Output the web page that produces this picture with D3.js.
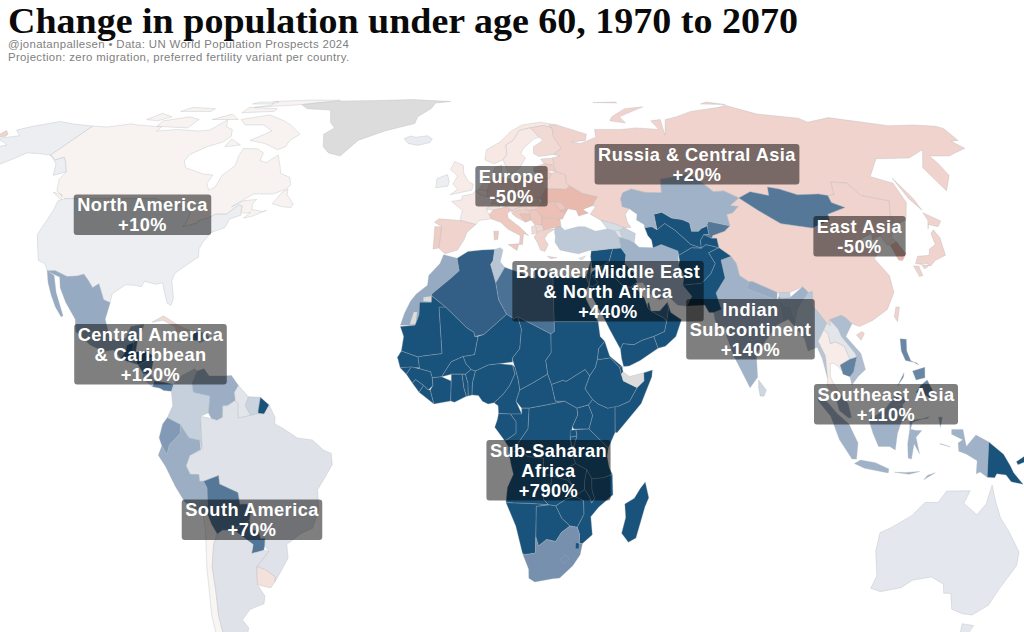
<!DOCTYPE html>
<html><head><meta charset="utf-8">
<script src="https://cdn.jsdelivr.net/npm/d3@7"></script>
<style>html,body{margin:0;background:#fff}svg{display:block}</style></head>
<body><svg id="c" width="1024" height="632"></svg>
<script>
const titleText = "Change in population under age 60, 1970 to 2070";
const subtitleLines = ["@jonatanpallesen • Data: UN World Population Prospects 2024","Projection: zero migration, preferred fertility variant per country."];

const labelLines = [["North America","+10%"],["Central America","& Caribbean","+120%"],["South America","+70%"],["Europe","-50%"],["Russia & Central Asia","+20%"],["East Asia","-50%"],["Broader Middle East","& North Africa","+440%"],["Indian","Subcontinent","+140%"],["Southeast Asia","+110%"],["Sub-Saharan","Africa","+790%"]];
const labelCentreX = [142.5,150.5,252,511.5,697,859.5,608,750.5,886,548.5];
const labelCentreY = [214.5,354,519.5,186,164,236,291,329,404,470];

// change in population under 60, percent, read from the colours; null = no data
const changeStops = [-70,-50,-20,0,10,30,60,100,130,200,300,500];
const changeColours = ["#eab9ad","#f0d3cc","#f7e8e4","#f8f6f4","#eceef2","#dfe3e9","#c6d0dc","#a0b2c7","#839ab6","#557899","#335f87","#19527b"];
const noDataColour = "#dcdcdc";

// projection tables: parallel length, and height of each parallel in pixels
const lenLat = d3.range(0,95,5);
const lenNorthEast = [1,.9986,.99,.98,.965,.955,.94,.915,.89,.86,.82,.79,.75,.72,.69,.66,.62,.57,.53];
const lenOther = [1,.9986,.9954,.99,.9822,.973,.96,.9427,.9216,.8962,.8679,.835,.7986,.7597,.7186,.6732,.6213,.5722,.5322];
const northLat = [0,15,25,37,43.5,60,69.6,77,83,90];
const northPx = [0,68,117,175,204,268,298,318,324,330];
const southLat = [0,5,35,40,55,90];
const southPx = [0,23,158,184,262,400];

const americaNames = ["Canada","USA","Greenland","Iceland","Mexico","Guatemala","Belize","Honduras","El Salvador","Nicaragua","Costa Rica","Panama","Cuba","Haiti","Dominican Rep.","Jamaica","Puerto Rico","Colombia","Venezuela","Guyana","Suriname","French Guiana","Brazil","Ecuador","Peru","Bolivia","Paraguay","Chile","Argentina","Uruguay"];
const americaChanges = [-5,10,null,15,110,400,250,350,150,200,60,190,-40,250,100,30,-30,60,105,25,55,500,30,130,105,200,210,-2,30,-30];
const americaOutlines = [
"-123,49;-95,49;-94.6,48.7;-89.5,48;-84.5,46.5;-82.5,45.3;-82.4,43;-83,42;-79,42.8;-79,43.3;-76.5,44;-74.7,45;-71.5,45;-70,46.5;-69,47.4;-67.8,47;-67.5,45.5;-66,45.2;-64.5,45.5;-66,44;-63.5,44.5;-60,46;-61,45.7;-64.5,46.2;-65,47.8;-64.3,48.8;-68,48.5;-71,46.9;-66,50.2;-60,50.2;-56.5,51.5;-55.7,52.5;-57,54.5;-60.5,55.5;-62,57.5;-64.5,60.3;-67,58.3;-69.5,58.8;-70,61;-73,62.3;-78,62.4;-77.5,60;-76.7,57.5;-79,55;-79,52;-80.5,51.2;-82.3,52.9;-82,55.1;-85,55.3;-92.5,57;-94.5,58.8;-94.3,60.5;-91,63;-87,64.5;-86,66.3;-88,68.5;-91,69.3;-94,71.9;-96,68.3;-100,68;-108,68.5;-115,68;-115,69.3;-125,70;-128,70.4;-135,69.3;-141,69.6;-141,60.3;-137.5,59;-135.5,59.7;-133.5,58.5;-130,55.9;-130,54;-127.5,51;-124,49.5|-64,63;-66,62;-72,64;-78,65;-73,68;-78,70;-85,70;-89,72;-80,73.7;-72,71.5;-68,70;-62,67;-64,65|-105,69;-117,69.5;-118,71.5;-110,73;-105,72|-120,71.5;-125,72;-123,74.3;-117,73|-90,76.5;-75,78;-65,81.5;-62,82.7;-75,83;-90,81.5;-85,78|-80,75;-92,74.5;-92,76.5;-80,76|-85,63;-80,63.5;-85,65.5|-59,47.7;-55.5,46.9;-53,46.7;-52.7,47.7;-55.5,50;-56,51.5;-57.5,50.5|-105,75;-117,75;-115,76.5;-105,76|-87,79;-95,79;-95,81;-87,81|-90,72;-100,72;-95,74|-123.5,48.4;-128.3,50.7;-125,50", // Canada
"-123,49;-95,49;-94.6,48.7;-89.5,48;-84.5,46.5;-82.5,45.3;-82.4,43;-83,42;-79,42.8;-79,43.3;-76.5,44;-74.7,45;-71.5,45;-70,46.5;-69,47.4;-67.8,47;-67.5,45.5;-67,44.8;-70,43.7;-70.5,41.8;-74,40.7;-75.5,38.5;-76,37;-75.5,35.3;-78,33.9;-81,32;-81.4,30.5;-80,26.8;-80.3,25.3;-81.5,25.8;-82.8,28;-83.8,30;-85.5,29.7;-89,30.3;-89.5,29.2;-91.5,29.5;-94,29.6;-97.2,27.7;-97.2,25.9;-99.2,26.5;-101.5,29.8;-103,29;-104.7,30.5;-106.5,31.8;-108.2,31.4;-111,31.3;-114.8,32.5;-117.1,32.5;-118.5,34;-120.6,34.6;-122.5,37.5;-124.3,40.3;-124,46;-124.7,48.4|-141,69.6;-150,70.4;-156.5,71.3;-163,69.5;-166.5,68.3;-162,66.5;-168,65.6;-164,64.5;-161,63.5;-165,62.5;-165.5,60.5;-162,59;-157,58.7;-162,55;-158,56.2;-154,58;-151.5,59.5;-150,61;-146,60.8;-141,60.3|-141,60.3;-137.5,59;-135.5,59.7;-133.5,58.5;-130,55.9;-133,55;-136,58;-139.5,59.7", // USA
"-73,78.2;-68,76;-58,75.5;-54,71;-51,69;-53.5,67;-51,63;-48,61;-43.5,60;-40,65;-32,68;-22,70.5;-22,73;-18,76;-18,80;-12,81.5;-30,83.5;-45,82.5;-60,82;-68,80.5", // Greenland
"-24,65.5;-22,64;-18.5,63.4;-14.5,64.3;-14,65.5;-16,66.5;-20,66;-22,66.4", // Iceland
"-117.1,32.5;-114.8,32.5;-111,31.3;-108.2,31.4;-106.5,31.8;-104.7,30.5;-103,29;-101.5,29.8;-99.2,26.5;-97.2,25.9;-97.8,22.5;-96,19;-94.5,18.2;-91.5,18.6;-90.5,21;-87,21.5;-87.8,18.2;-89,17.9;-91,17.2;-91,16;-92.2,14.5;-94.5,16.2;-97,15.9;-101,17.3;-105.3,20;-106,22.5;-109.5,26;-112,29;-113,31.2;-114.8,31.7|-117.1,32.5;-115.7,30;-114,27.5;-112,25;-110,23;-109.5,23.2;-111,25.5;-112.8,28;-114.7,31.5", // Mexico
"-92.2,14.5;-91,16;-91,17.2;-89.2,17.8;-88.3,15.8;-89.3,14.5;-90.2,13.8", // Guatemala
"-89.2,17.8;-88.2,18.4;-88.3,16;-89.2,15.9", // Belize
"-89.3,14.5;-88.3,15.8;-86,16;-83.2,15;-85,14;-87.3,13", // Honduras
"-90.2,13.8;-89.3,14.4;-87.8,13.8;-87.7,13.2", // El Salvador
"-87.3,13;-85,14;-83.2,15;-83.7,11;-85.7,11.1", // Nicaragua
"-85.7,11.1;-83.7,11;-82.6,9.5;-83,8.2;-85.7,9.9", // Costa Rica
"-83,8.2;-82.6,9.5;-80,9.2;-77.4,8.7;-77.9,7.2;-80,7.4;-81,7.9", // Panama
"-84.9,21.9;-82,23.2;-77,21;-74.2,20.2;-77.7,19.9;-78.5,21;-82,22.3", // Cuba
"-74.4,18.4;-73,19.9;-71.7,19.8;-71.8,18.1", // Haiti
"-71.7,19.8;-70,19.8;-68.4,18.6;-71.3,17.7;-71.8,18.1", // Dominican Rep.
"-78.3,18.3;-76.3,18;-77.5,17.9", // Jamaica
"-67.2,18.5;-65.7,18.2;-66.5,18", // Puerto Rico
"-77.4,8.7;-75.5,10.6;-72,12.2;-71.3,11.7;-72.5,9;-72,7;-67.5,6.2;-67.8,2.5;-69.9,1.7;-69.5,-4.2;-70.2,-2.7;-73,-2.3;-75.3,-.1;-78.8,1.4;-77.4,4;-77.9,7.2", // Colombia
"-71.3,11.7;-69.5,12.2;-68,10.6;-64,10.6;-62,10.7;-60,8.5;-61,7;-60.7,5.2;-62.8,4;-64,4;-64,1.5;-65.5,.8;-67,1.2;-67.8,2.5;-67.5,6.2;-72,7;-72.5,9", // Venezuela
"-60,8.5;-57.2,6;-58,4;-56.5,1.9;-59.8,1.3;-60,3;-59.9,4.4;-60.7,5.2;-61,7", // Guyana
"-57.2,6;-54,5.9;-54.5,3;-54.5,2.3;-56.5,1.9;-58,4", // Suriname
"-54,5.9;-51.6,4.2;-52.9,2.2;-54.5,2.3;-54.5,3", // French Guiana
"-51.6,4.2;-50,1.5;-50,0;-48,-.7;-44,-2.5;-40,-2.9;-37,-4.8;-35,-5.5;-34.8,-8;-37,-11;-39,-13.5;-39,-18;-41,-22;-44.5,-23.2;-48.5,-25.5;-48.6,-28.5;-52,-32.3;-53.4,-33.7;-53.1,-32.5;-55.5,-30.9;-57.6,-30.2;-53.7,-26.9;-54.6,-25.6;-54.3,-24;-55.5,-24;-55.8,-22.3;-58,-22;-58,-19.9;-57.5,-18;-58.3,-16.3;-60.2,-16.3;-60.5,-13.7;-65.3,-11.7;-65.4,-9.8;-69.5,-11;-70.6,-11;-70.7,-9.5;-73,-9.4;-74,-7.5;-72.9,-5.2;-70,-4.3;-69.5,-4.2;-69.9,1.7;-67,1.2;-65.5,.8;-64,1.5;-64,4;-62.8,4;-60.7,5.2;-59.9,4.4;-60,3;-59.8,1.3;-56.5,1.9;-54.5,2.3;-52.9,2.2", // Brazil
"-78.8,1.4;-75.3,-.1;-75.3,-1.5;-78.3,-3.4;-79,-5;-80.3,-3.5;-81,-2.2;-80,0", // Ecuador
"-75.3,-.1;-73,-2.3;-70.2,-2.7;-69.9,-4.2;-72.9,-5.2;-74,-7.5;-73,-9.4;-70.7,-9.5;-70.6,-11;-69.5,-11;-68.7,-12.5;-69,-16.5;-69.5,-17.5;-70.4,-18.3;-75,-15.5;-77.2,-12;-79.5,-7.5;-81.3,-5;-80.3,-3.5;-79,-5;-78.3,-3.4;-75.3,-1.5", // Peru
"-69.5,-11;-65.4,-9.8;-65.3,-11.7;-60.5,-13.7;-60.2,-16.3;-58.3,-16.3;-57.5,-18;-58,-19.9;-62.6,-22;-64,-22;-65.7,-22;-67.2,-22.8;-68.5,-20.5;-69.5,-17.5;-69,-16.5;-68.7,-12.5", // Bolivia
"-58,-19.9;-58,-22;-55.8,-22.3;-55.5,-24;-54.3,-24;-54.6,-25.6;-55,-26.6;-58.5,-27.3;-57.7,-25.3;-62.6,-22", // Paraguay
"-70.4,-18.3;-69.5,-17.5;-68.5,-20.5;-67.2,-22.8;-68.5,-25;-70,-30;-70.5,-35;-71.5,-40;-72,-46;-73,-50;-72,-52;-68.5,-52.5;-68.6,-55;-72,-54;-75,-50;-74,-45;-73.5,-40;-71.5,-30;-70.3,-22", // Chile
"-65.7,-22;-64,-22;-62.6,-22;-57.7,-25.3;-58.5,-27.3;-55,-26.6;-53.7,-26.9;-57.6,-30.2;-58.2,-33;-58.4,-34.2;-57,-36.5;-57.7,-38;-62,-39;-65,-41;-63.8,-42.5;-65.5,-45;-66,-47;-69,-51;-68.5,-52.5;-72,-52;-73,-50;-72,-46;-71.5,-40;-70.5,-35;-70,-30;-68.5,-25;-67.2,-22.8", // Argentina
"-57.6,-30.2;-55.5,-30.9;-53.1,-32.5;-53.4,-33.7;-54.9,-35;-58.4,-34.2;-58.2,-33" // Uruguay
];

const africaNames = ["Morocco","W. Sahara","Algeria","Tunisia","Libya","Egypt","Sudan","South Sudan","Chad","Niger","Mali","Mauritania","Senegal","Guinea-Bissau","Guinea","Sierra Leone","Liberia","Ivory Coast","Burkina Faso","Ghana","Togo","Benin","Nigeria","Cameroon","CAR","Gabon","Congo","DR Congo","Uganda","Kenya","Rwanda","Burundi","Tanzania","Ethiopia","Eritrea","Djibouti","Somaliland","Somalia","Angola","Zambia","Malawi","Mozambique","Zimbabwe","Botswana","Namibia","South Africa","Lesotho","Eswatini","Madagascar"];
const africaChanges = [110,null,300,75,230,500,500,500,500,500,500,500,500,500,500,500,500,500,500,500,500,500,500,500,500,500,500,500,500,500,500,500,500,500,500,500,null,500,500,500,500,500,500,500,500,150,150,500,500];
const africaOutlines = [
"-5.9,35.8;-2,35.1;-1.3,32.5;-3.5,31;-8.7,27.7;-8.7,26;-12,26;-12,23.4;-13,21.3;-17,21.3;-16,23.7;-14.5,26.2;-13,27.7;-10,29.5;-9.8,31.5;-6.8,34", // Morocco
"-11,26.2;-8.7,26;-8.7,27.3;-11,27|-13.5,24;-12.5,24;-12.8,21.5;-14.5,21.4", // W. Sahara patches
"-2,35.1;1,36.5;5,36.8;8.6,36.9;8.2,34.6;7.5,33.8;9,30;9.8,26.5;12,23.5;5.8,19.4;3.3,19;3.1,19.8;1.2,20.7;-4.8,25;-8.7,27.3;-8.7,27.7;-3.5,31;-1.3,32.5", // Algeria
"8.6,36.9;10.2,37.3;11,36.8;10.2,34.3;11.5,33.2;10.2,31.5;9,30;7.5,33.8;8.2,34.6", // Tunisia
"11.5,33.2;15,32.3;20,30.9;20,32.7;23,32.6;25,31.6;25,20;24,19.5;15,23;14,22.6;12,23.5;9.8,26.5;9,30;10.2,31.5", // Libya
"25,31.6;29,31;32.3,31.2;34.2,31.3;34.9,29.5;33.5,28;34,26.5;35.5,24;37,22;25,22", // Egypt
"25,22;37,22;37.4,19;38.6,18;36.9,16.5;36.5,14.3;35.9,12.5;34.3,10.6;33.1,12;28,9.4;27,9.6;24,8.7;23,11;22.5,14;24,15.7;24,19.5;25,20", // Sudan
"33.1,12;34.3,10.6;33,7.8;35,5.4;33.9,4.2;30.8,3.5;27.5,5;25,5;24,8.7;27,9.6;28,9.4", // South Sudan
"15,23;24,19.5;24,15.7;22.5,14;23,11;18.9,9;15.5,7.5;15,10;14.2,12.5;13.5,14.5;15.5,16.5;16,20.5", // Chad
"12,23.5;14,22.6;15,23;16,20.5;15.5,16.5;13.5,14.5;13.6,13.7;10,13.3;7,13;3.6,11.7;2.4,12;1,13.3;.2,14.9;3.3,15.3;4.2,19;5.8,19.4", // Niger
"-4.8,25;1.2,20.7;3.1,19.8;3.3,19;4.2,19;3.3,15.3;.2,14.9;-3,13.7;-5.5,10.4;-8,10.2;-8.5,11.5;-11.5,12.2;-12,14.8;-10.8,15;-5.5,15.5;-6.6,25", // Mali
"-8.7,27.3;-4.8,25;-6.6,25;-5.5,15.5;-10.8,15;-12,14.8;-16.5,16;-16,19;-17,21;-13,21.3;-12,23.4;-12,26;-8.7,26", // Mauritania
"-16.5,16;-12,14.8;-11.5,12.4;-16.7,12.4;-17.5,14.7", // Senegal
"-16.7,12.4;-13.7,12.6;-15,11", // Guinea-Bissau
"-13.7,12.6;-11.5,12.2;-8.5,11.5;-8,10.2;-7.8,8.5;-9,7.5;-10.3,8.5;-12.5,9.8;-13.3,9;-15,11", // Guinea
"-13.3,9;-12.5,9.8;-10.3,8.5;-11.5,7", // Sierra Leone
"-11.5,7;-10.3,8.5;-9,7.5;-8.5,7.5;-7.5,4.4", // Liberia
"-8,10.2;-5.5,10.4;-2.9,9.5;-3,5.1;-7.5,4.4;-8.5,7.5;-7.8,8.5", // Ivory Coast
"-5.5,10.4;-3,13.7;.2,14.9;1,13.3;2.4,12;.9,11;-2.9,11", // Burkina Faso
"-2.9,11;0,11;.5,8;1.2,6.1;-2,4.8;-3,5.1;-2.9,9.5", // Ghana
"0,11;.9,11;1.6,9;1.7,6.2;1.2,6.1;.5,8", // Togo
".9,11;2.4,12;3.6,11.7;2.8,9;2.7,6.4;1.7,6.2;1.6,9", // Benin
"2.7,6.4;2.8,9;3.6,11.7;7,13;10,13.3;13.6,13;14.2,11;12.8,8.5;11,6.5;8.6,4.7;7,4.4;5.5,5;4.4,6.3", // Nigeria
"8.6,4.7;11,6.5;12.8,8.5;14.2,11;13.6,13;14.2,12.5;15,10;15.5,7.5;14.5,5;16,2.2;13,2.2;9.8,2.3;9.7,4", // Cameroon
"15.5,7.5;18.9,9;23,11;24,8.7;25,5;27.5,5;22,4.1;18,3.5;16,3.5;14.5,5", // CAR
"9.8,2.3;13,2.2;14.5,.5;14.5,-2;11.5,-3.7;8.8,-.7;9.5,1", // Gabon
"13,2.2;16,2.2;16,3.5;18,3.5;17.7,-1;16,-3;14.5,-4.8;12.5,-5;11.5,-3.7;14.5,-2;14.5,.5", // Congo
"18,3.5;22,4.1;27.5,5;30.8,3.5;31,2;29.6,-.5;29,-2.7;29.5,-6;30.5,-8.3;28.9,-9;28.6,-11.5;29.8,-13.4;28.3,-12;27,-11.8;24,-11;22,-11;21.8,-7.3;17.5,-7;16.3,-5.9;12.5,-5.9;12.5,-5;14.5,-4.8;16,-3;17.7,-1", // DR Congo
"31,2;30.8,3.5;33.9,4.2;35,1.9;34,-1;29.9,-1;29.6,-.5", // Uganda
"33.9,4.2;35,5.4;36.5,4.4;39,3.5;41,3.9;41,-1.6;39.2,-4.7;34,-1;35,1.9", // Kenya
"29,-1.3;30.5,-1.1;30.8,-2.4;29,-2.7", // Rwanda
"29,-2.7;30.8,-2.4;30,-4.5;29.4,-4.5", // Burundi
"34,-1;39.2,-4.7;38.9,-6.5;39.5,-9;40.4,-10.5;38,-11.3;34.9,-11.6;33.5,-9.6;30.5,-8.3;29.5,-6;30,-4.5;30.8,-2.4;30.5,-1.1", // Tanzania
"36.5,14.3;37.5,14.3;40,14.6;42.4,12.5;42.8,11;43.3,9.5;47,8;44.9,5;41.9,3.9;39,3.5;36.5,4.4;35,5.4;33,7.8;34.3,10.6;35.9,12.5", // Ethiopia
"36.5,14.3;36.9,16.5;38.6,18;39.8,15;43.1,12.7;42.4,12.5;40,14.6;37.5,14.3", // Eritrea
"42.4,12.5;43.1,12.7;43.3,11.5;42.8,11", // Djibouti
"42.8,11;43.3,11.5;45,10.5;48.9,11.3;48.9,9.5;47,8;43.3,9.5", // Somaliland
"48.9,11.3;51.2,11.9;51,10.4;48,4.5;41.5,-1.7;41,-1.6;41,3.9;41.9,3.9;44.9,5;47,8;48.9,9.5", // Somalia
"12.5,-5.9;16.3,-5.9;17.5,-7;21.8,-7.3;22,-11;24,-11;24,-13;22,-13;22,-16.5;23.4,-17.6;18.5,-17.4;14,-17.4;11.8,-17.3;12.2,-14;13.8,-11;13.2,-9", // Angola
"24,-11;27,-11.8;28.3,-12;29.8,-13.4;28.6,-11.5;28.9,-9;30.5,-8.3;33.5,-9.6;33,-12;33,-14;30.4,-15.6;28,-16.3;25.3,-17.8;23.4,-17.6;22,-16.5;22,-13;24,-13", // Zambia
"33.5,-9.6;34.9,-11.6;35,-14;35.8,-16;35,-17;34.3,-15.5;33,-14;33,-12", // Malawi
"34.9,-11.6;38,-11.3;40.4,-10.5;40.7,-15;37,-17.8;34.9,-20;35.5,-24;32.9,-26;32,-26;32,-24;31.3,-22.4;33,-19.5;32.8,-16.5;30.4,-15.6;33,-14;34.3,-15.5;35,-17;35.8,-16;35,-14", // Mozambique
"25.3,-17.8;28,-16.3;30.4,-15.6;32.8,-16.5;33,-19.5;31.3,-22.4;29.3,-22.2;27,-20.5", // Zimbabwe
"20,-18;23.4,-17.6;25.3,-17.8;27,-20.5;29.3,-22.2;27,-23.7;25.5,-25.7;23,-25.3;20.8,-26.8;20,-24.8;20,-22", // Botswana
"11.8,-17.3;14,-17.4;18.5,-17.4;23.4,-17.6;20,-18;20,-22;20,-28.4;17,-28.8;16.4,-28.5;14.5,-22.5", // Namibia
"16.4,-28.5;17,-28.8;20,-28.4;20,-24.8;20.8,-26.8;23,-25.3;25.5,-25.7;27,-23.7;29.3,-22.2;31.3,-22.4;32,-24;32,-26;32.9,-26;32.4,-28.5;30.5,-31;27,-33.8;25,-34;20,-34.8;18.3,-34;18.2,-32", // South Africa
"27,-29.6;28.5,-28.6;29.4,-29.5;28,-30.6", // Lesotho
"31,-25.8;32,-26;32,-27.2;31,-27.2", // Eswatini
"49.3,-12;50.4,-15.5;49.5,-17.5;47.5,-24.5;45.5,-25.5;43.5,-23.5;44.4,-20;44,-17;46.5,-15.7;48,-13.5" // Madagascar
];

const westAsiaNames = ["Saudi Arabia","Yemen","Oman","UAE","Qatar","Kuwait","Iraq","Syria","Jordan","Israel & Palestine","Turkey","Iran","Azerbaijan","Armenia","Georgia","Afghanistan","Pakistan","Uzbekistan","Turkmenistan","Tajikistan","Kyrgyzstan","Kazakhstan"];
const westAsiaChanges = [500,500,500,300,300,300,500,500,500,300,70,100,60,30,40,500,500,500,500,500,200,100];
const westAsiaOutlines = [
"34.9,29.5;36,29.2;37.5,30;36,31.5;39,32;42,31.2;44.7,29.2;46.5,29.1;48.4,28.5;50.1,26.7;50.8,24.8;51.6,24.2;55.2,22.7;55.7,22;55,20;52,19;48.8,18.2;46.5,17.3;43.5,17.5;42.8,16.4;40,20.5;38.5,23;37,25;35,28", // Saudi Arabia
"42.8,16.4;43.5,17.5;46.5,17.3;48.8,18.2;52,19;53,16.6;48,14;45,12.8;43.5,12.7;43,14.5", // Yemen
"52,19;55,20;55.7,22;56.4,24.5;56.3,26;57,23.9;59.8,22.4;58,19;55,17;53,16.6", // Oman
"51.6,24.2;54,24.2;56.3,26;56.4,24.5;55.7,22;55.2,22.7", // UAE
"50.8,24.8;51.6,24.2;51.2,26;50.8,25.6", // Qatar
"46.5,29.1;48,30;48.4,28.5", // Kuwait
"38.8,33.4;41,34.4;42.4,37.1;44.8,37.2;46,35.8;45.5,34;47.8,32;48.5,30;48,30;46.5,29.1;44.7,29.2;42,31.2;39,32", // Iraq
"35.9,35.5;36.2,36.6;42.4,37.1;41,34.4;38.8,33.4;36,33", // Syria
"35,29.5;36,29.2;37.5,30;36,31.5;39,32;38.8,33.4;36,32.3;35.5,31.5", // Jordan
"34.3,31.3;34.9,29.5;35.5,31.5;35.9,34.6;35.1,33.1", // Israel & Palestine
"26.2,40;26,38.5;27.3,36.8;30.5,36.3;32.5,36;36,36.8;36.2,36.6;42.4,37.1;44.8,37.2;44.6,39.7;43.6,41.1;41.5,41.5;38,41;35,42;33,42;29,41.2;28,42;26.3,41.8;26,40.7", // Turkey
"44.8,37.2;46,35.8;45.5,34;47.8,32;48.5,30;50,30;51.5,27.8;54,26.5;57,27;59,25.4;61.6,25.2;63.2,27.2;61,29.5;61.7,31.4;60.5,33.6;61,36.6;56.5,38;54,37.3;50,37.4;48.8,38.4;47.5,39;44.6,39.7", // Iran
"45,41.2;46.5,41.8;49.5,40.5;48.8,38.4;47.5,39;45.5,39.5", // Azerbaijan
"43.6,41.1;45,41.2;45.5,39.5;44.6,39.7", // Armenia
"41.5,41.5;43.6,41.1;45,41.2;46.5,41.8;44,42.6;40,43.4", // Georgia
"60.5,33.6;61.7,31.4;61,29.5;66.3,29.9;69.3,31.9;71,34;71.5,36.2;74.9,37.3;71.3,38;67.8,37.2;65,37.3;61,35.7;61,34.5", // Afghanistan
"61,29.5;63.2,27.2;61.6,25.2;66.5,25.4;67.5,23.9;68.8,23.9;71,24.5;70,27.9;74.5,31;74.6,34.7;77.8,35.5;74.9,37.3;71.5,36.2;71,34;69.3,31.9;66.3,29.9", // Pakistan
"56,45;58.5,45.5;61,44;64,43.6;66,42.9;66,41;68,41;69,41.6;71,42.2;73,40.6;71,40.2;69.3,40.2;68,38.9;67.8,37.2;65,38;61.2,41.2;58.6,42.7;56,41.3", // Uzbekistan
"52.5,41.8;54.7,42;56,41.3;58.6,42.7;61.2,41.2;65,38;67.8,37.2;65,37.3;61,35.7;61,36.6;56.5,38;54,37.3;53.9,39;53,40", // Turkmenistan
"67.8,37.2;71.3,38;74.9,37.3;75,39.4;73.5,39.4;70,40.2;71,40.2;69.3,40.2;68,38.9", // Tajikistan
"69.3,40.2;73.5,39.4;74,40;78,41;80.2,42.2;74,43.2;71,42.5;71,42.2;73,40.6;71,40.2", // Kyrgyzstan
"47,49;47,47;49,46.4;51,45;50.5,43.5;52.5,42.5;52.5,41.8;54.7,42;56,41.3;56,45;58.5,45.5;61,44;64,43.6;66,42.9;66,41;68,41;69,41.6;71,42.2;71,42.5;74,43.2;80.2,42.2;80.5,45;82.5,45.3;85.5,47;83,47.2;87.3,49.2;83.5,51;80,50.8;77,53.5;71,55;70,55.3;65,54.5;61,54;60,50.5;55,50.6;51,51.5;48,50.5" // Kazakhstan
];

const eastAsiaNames = ["Russia","China","Mongolia","North Korea","South Korea","Japan","Taiwan","India","Nepal","Bhutan","Bangladesh","Sri Lanka","Myanmar","Thailand","Laos","Vietnam","Cambodia","Malaysia","Indonesia","Philippines","Papua New Guinea","Australia"];
const eastAsiaChanges = [-50,-50,200,-25,-70,-50,-50,100,110,60,110,50,75,-15,25,85,180,100,100,170,500,22];
const eastAsiaOutlines = [
"28,70;31,70;41,67;40,65;35,64.5;38,64;44,66;44.5,68.5;54,68.5;60,69;68,68.5;67,71.5;73,72;72,66.7;75,72;80,73;87,75;100,76.5;104,77.7;113,74;128,72.5;130,71;140,72.7;160,69.7;170,70;178,69.5;180,68.8;180,65;177,64.7;179,62.5;170,60;163,60;163,58;162,55;156.7,51;156,57;163,62;155,59.5;143,59.3;135,54.7;141,53;140,48;135,43.5;131,42.5;130.7,43;131.3,45;135,48.4;127.5,49.8;125.6,53;120.5,53.3;119,50;116.7,49.8;114,50.2;107,50;102,51.5;98.5,52;97.5,49.8;92,50.8;87.3,49.2;83.5,51;80,50.8;77,53.5;71,55;70,55.3;65,54.5;61,54;60,50.5;55,50.6;51,51.5;48,50.5;47,49;47,47;49,46.4;47.5,45;47.7,43;48.5,41.8;46.5,41.8;44,42.6;40,43.4;37,45;39,47;38,47.2;40,49.5;35.5,50.4;32,52.3;31,53;31,55.2;28,56;27.5,59.5;30,60;28,60.5;31,62.5;29,66;29,69|-170,66;-166.5,66.3;-167,67;-170,68.2|142,54.3;143.5,49;142.5,46;142,49|51.5,71.5;57,70.7;56,73;68,76.7;60,76;53,73|95,79;105,78.5;100,81|50,80.5;60,80;60,81", // Russia
"80.2,42.2;80.5,45;82.5,45.3;85.5,47;83,47.2;87.3,49.2;91,46;96,42.7;105,41.7;111.5,43.5;112,45;119,46.7;116,48;116.7,49.8;119,50;120.5,53.3;125.6,53;127.5,49.8;135,48.4;131.3,45;130.7,43;128,41.7;124.3,40;121.5,39;122,40.5;118,39.2;119,37.3;122.5,37;119.5,35;121.8,31.5;121.5,28;118.5,24.5;114,22.3;110,21;108,21.6;106.5,22.8;105.3,23.3;102,22.4;102,21.2;101,21.7;99,24;97.8,25.2;98.5,28.2;97.3,28;96,29.2;92,28;89,28;88.5,28;82,30.3;81,30.2;78.8,31.5;78.8,34;77.8,35.5;74.9,37.3;75,39.4;73.5,39.4;74,40;78,41|108.7,19.3;110.5,20;111,19.6;109.7,18.2", // China
"87.3,49.2;92,50.8;97.5,49.8;98.5,52;102,51.5;107,50;114,50.2;116.7,49.8;116,48;119,46.7;112,45;111.5,43.5;105,41.7;96,42.7;91,46", // Mongolia
"124.3,40;128,41.7;130.7,43;130.6,42.4;127.5,39.7;128.3,38.6;126,37.8;125,38", // North Korea
"126,37.8;128.3,38.6;129.4,36;127.5,34.6;126.4,34.7", // South Korea
"130.9,34;135,33.5;137,34.6;140.8,35.7;141.9,39.5;141.4,41.3;140,40.5;139.4,38;137,37;136,35.7;132.5,35.5|130,33.5;131.5,33.5;131.4,31.5;130.3,31.3|132.5,34;134.5,34;134,33.3;132.7,32.9|140,41.5;141,42.5;143.5,42;145.5,43.3;142,45.4;141.7,43.5", // Japan
"121,25;122,25;120.8,22;120.1,23", // Taiwan
"68.8,23.9;71,24.5;70,27.9;74.5,31;74.6,34.7;77.8,35.5;78.8,34;78.8,31.5;81,30.2;80,28.8;88,26.4;88.8,27.2;89.5,26.8;92,27;96,29.2;97.3,28;95,26;93.5,24.5;92.5,22;91.7,24.5;92,25.1;90,25.2;88.5,26.5;89,22;87,21.3;85,19.5;80.2,15.5;80,13;79.8,10.3;77.5,8;76,11;74,15;72.8,19;72.7,21;70,20.8;69,22.3", // India
"80,28.8;81,30.2;82,30.3;88.5,28;88,26.4", // Nepal
"88.8,27.2;89,28;92,28;92,27;89.5,26.8", // Bhutan
"88.5,26.5;90,25.2;92,25.1;91.7,24.5;92.5,22;92,21;90.5,22.5;89,22", // Bangladesh
"80,9.7;81.8,7.5;81,6.1;80,6.2;79.8,8", // Sri Lanka
"92.5,22;93.5,24.5;95,26;97.3,28;98.5,28.2;97.8,25.2;99,24;101,21.7;100,20.4;97.8,18;99,15;98.7,10;98,14.5;97.2,16.8;94.5,16;94.2,18.5;92.5,20.5", // Myanmar
"100,20.4;101,19.5;101,17.5;102.5,17.9;104.7,17;105.5,14.3;102.6,13;102.9,11.7;102,12.7;100.8,13.4;100,13.3;99.5,10.5;100.3,8.5;102,6.2;101,5.7;100.3,6.5;98.3,8.5;98.7,10;99,15;97.8,18", // Thailand
"101,21.7;102,21.2;102,22.4;104,20.5;104.5,19;107.3,15.5;107.5,14.8;105.5,14.3;104.7,17;102.5,17.9;101,17.5;101,19.5;100,20.4", // Laos
"102,22.4;105.3,23.3;106.5,22.8;108,21.6;105.7,19;108.8,15.5;109.3,12;107,10.5;105,8.6;104.8,10.4;106,11.5;107.5,14.8;107.3,15.5;104.5,19;104,20.5", // Vietnam
"102.6,13;105.5,14.3;107.5,14.8;106,11.5;104.8,10.4;103,11;102.9,11.7", // Cambodia
"100.3,6.5;101,5.7;102,6.2;103.4,4.5;104.2,1.4;103.4,1.4;101,3;100.4,5|109.6,2;111,1.6;114,1.5;115.5,3.2;116,4.3;118,4.3;119.2,5.3;117,7;115.5,5.5;113,3;110.2,1.6", // Malaysia
"95.3,5.6;97.5,5.2;100.5,2.2;103.5,0;106,-3;105.7,-5.8;104.5,-5.8;101,-2.5;98.7,1.7;95.5,5|105.2,-6.8;106.8,-6;110.8,-6.5;114.5,-7.8;114.4,-8.7;108,-7.8|109.6,2;111,1.6;114,1.5;115.5,3.2;116,4.3;118,4.3;117.8,2;119,1;117.5,.5;116.5,-1.5;116,-4;114.5,-3.5;111.5,-3.5;110,-1.5;109,.5|119.8,.8;124.5,1.2;125,1.6;120.5,.4;120,-.8;121.5,-1;123,-1;121.5,-2;122.5,-4.5;121,-3;120.4,-5.5;119.5,-5.3;119.3,-3;119.8,-.8|131,-.8;134,-.8;135,-3.3;137.5,-1.6;141,-2.6;141,-9.1;139,-8;138,-8.4;138,-5.5;135,-4.4;133,-4;132.8,-2.8;134,-2.3;131,-1.5|124,-10;127,-8.4;125,-9|116,-8.5;119,-8.5;122.8,-8.2;120,-8.9|128,-3;130.8,-3.4;128,-2.9|127.5,1.5;128.5,1.5;128,-.5", // Indonesia
"120.5,18.5;122.2,18.4;121.5,16;122,14;124,13;123.5,13.5;120.6,14;120,16|122,7;123.5,8.5;125.5,9.7;126.5,7.5;125.5,5.7;124,6.5|122,11.7;125.5,12.5;125,10.2;122.5,9.7|117.2,8.3;119.6,11.3;119.2,10.3", // Philippines
"141,-2.6;145,-4.3;147,-6.5;148,-8;150.8,-10.5;147.5,-10;146,-8.5;143.5,-8.3;143,-9.2;141,-9.1|148.5,-5.5;152,-4;152,-5;149,-6.2", // PNG
"113.7,-26;114,-22;117,-20.7;122,-18;125,-15;128.5,-15;130.5,-12.4;136.8,-12.2;135.5,-15;139.5,-17.5;141.5,-15;142.5,-10.8;144,-14.5;146,-18;149,-21;153,-25.5;153.5,-28.5;151,-34;150,-37;146.5,-39;143.5,-38.8;140,-38;138,-35;136,-35;135,-33;131,-31.5;126,-32.3;123.5,-34;118,-35;115,-34.3;115.7,-31.5|144.7,-40.7;148.3,-41;147.7,-43.5;146,-43.6" // Australia
];

const europeNames = ["Norway","Sweden","Finland","Denmark","Estonia","Latvia","Lithuania","Belarus","Poland","Germany","Netherlands","Belgium","France","Spain","Portugal","UK","Ireland","Switzerland","Italy","Austria","Czechia","Slovakia","Hungary","Slovenia","Croatia","Bosnia","Serbia","Albania","N. Macedonia","Greece","Bulgaria","Romania","Moldova","Ukraine","Cyprus"];
const europeChanges = [-20,-18,-40,-25,-45,-55,-55,-50,-55,-50,-30,-25,-18,-50,-55,-15,10,-30,-58,-45,-45,-50,-55,-50,-55,-65,-60,-40,-45,-50,-65,-65,-60,-70,30];
const europeOutlines = [
"5,59;5.3,62;10,64.5;14,68;18,70;25,71;31,70;29,69;26,69.8;21,69;17,68.2;14.5,65;12,63.5;12.3,60.5;11,59;8,58", // Norway
"11,59;12.3,60.5;12,63.5;14.5,65;17,68.2;21,69;24,66;22,65.5;18,62.5;17,60.8;18.5,59.5;16.5,57;14.2,55.5;12.8,55.5", // Sweden
"21,69;26,69.8;29,69;29,66;31,62.5;28,60.5;23,59.9;21.3,60.8;21.5,63;25,65;24,66", // Finland
"8.2,57;10.6,57.7;10.5,55;8.7,54.9;8,56", // Denmark
"23.5,59.2;28,59.5;27.5,57.6;24.5,58", // Estonia
"21,57;24.5,58;27.5,57.6;28,56;25,56.3;21,56", // Latvia
"21,56;25,56.3;26.7,55.5;25.7,54.2;23.6,53.9", // Lithuania
"23.6,53.9;25.7,54.2;26.7,55.5;28,56;31,55.2;31,53;32,52.3;30.5,51.4;24,51.6;23.3,52.5", // Belarus
"14.2,53.9;18.5,54.8;20,54.4;23,54.3;23.6,53.9;23.3,52.5;24,51;22.5,49.1;18.8,49.5;15,51;14.7,52.5", // Poland
"7,53.5;8.7,54.9;10.5,54.5;14.2,53.9;14.7,52.5;15,51;12,50.2;13.8,48.6;13,47.5;7.5,47.6;8,49;6.2,49.5;6,51", // Germany
"3.5,51.4;4.7,53;7,53.5;6,51", // Netherlands
"2.5,51;3.5,51.4;6,51;6.2,49.5;4,50", // Belgium
"2.5,51;4,50;6.2,49.5;8,49;7.5,47.6;6,46.3;7.5,43.8;4,43.4;3,42.5;-1.7,43.4;-1.2,46;-4.7,48.3;-1.6,48.7;-1.5,49.7;1.5,50.2", // France
"-1.7,43.4;3,42.5;.5,40.7;-.3,39;-2,36.8;-5.5,36;-7.4,37.2;-7,42;-9.2,43;-8,43.8", // Spain
"-9,42;-7,42;-7.4,37.2;-9,37", // Portugal
"-5.3,50;1.3,51.2;1.7,52.7;0,53.5;-1.6,55.5;-2,57.6;-5,58.6;-6,56.5;-3.5,54.8;-4.8,52.8;-3.1,51.4", // UK
"-10,51.8;-6.3,52.2;-6,53.5;-6.8,55.2;-10,54.2", // Ireland
"6,46.3;7.5,47.6;10,47.3;10,46.3;8,46", // Switzerland
"7.5,43.8;6.9,45;8,46;12,47;13.7,46;12.3,45.3;12.5,44;16,41.9;18.4,40;17,40.5;16.6,38;15.7,38;16,40;12.5,41.4;10.3,43|12.5,38;15.6,38.2;15,36.7|8.3,41;9.7,41;9.5,39.2;8.5,39", // Italy
"9.5,47.4;13,47.5;13.8,48.6;17,48.7;16.1,46.8;13.7,46;12,47", // Austria
"12,50.2;15,51;18.8,49.6;17,48.7;13.8,48.6", // Czechia
"17,48.7;18.8,49.5;22.5,49.1;22,48.4;18.8,47.8", // Slovakia
"16.1,46.8;17,48;18.8,47.8;22,48.4;22.8,47.9;21,46.2;18.8,45.9", // Hungary
"13.7,46;16.1,46.8;16.5,46;13.6,45.5", // Slovenia
"13.6,45.2;16.5,46.4;18.8,45.9;19,45;16,45;17.7,43;15,44.2", // Croatia
"16,45;19,45;19.3,43.5;17.7,43", // Bosnia
"19,46;21,46.2;22.6,44.2;22.4,42.4;20.5,42.3;19.3,43.5;19,45", // Serbia
"19.4,42;20.5,42.3;21,40.6;19.4,40.3", // Albania
"20.7,42;22.4,42.4;23,41.3;21,40.8", // N. Macedonia
"20,39.7;21,40.7;23,41.3;26.3,41.5;24,40.5;23,39.3;24,38;23,36.5;21.7,36.8;21,38.3|23.6,35.5;26.3,35.2;24.5,35", // Greece
"22.6,44.2;27.9,43.7;28,42;26.3,41.8;23,41.3;22.4,42.4", // Bulgaria
"22.8,47.9;26.6,48.3;28.2,46;29.6,45.2;28.6,43.7;22.6,44.2;21,46.2", // Romania
"26.6,48.3;29,47.9;30,46.4;28.2,45.6", // Moldova
"24,51.6;30.5,51.4;32,52.3;35.5,50.4;40,49.5;38,47.2;35,46.2;36.5,45.3;33.5,44.5;33,46;30.6,46.4;29.6,45.2;28.2,46;30,46.4;29,47.9;26.6,48.3;22.8,47.9;22.5,49.1;24,51", // Ukraine
"32.4,35;34.5,35.6;33.5,34.8" // Cyprus
];

// pseudo-cylindrical projection fitted to the picture
const pxPerDegree = 3.74, lon0 = 11, centreX = 503, equatorY = 424, southDrop = .09;
const lenEast = d3.scaleLinear().domain(lenLat).range(lenNorthEast);
const lenRest = d3.scaleLinear().domain(lenLat).range(lenOther);
const heightN = d3.scaleLinear().domain(northLat).range(northPx);
const heightS = d3.scaleLinear().domain(southLat).range(southPx);
const toScreen = d3.geoTransform({point(lon,lat){
  const a = Math.abs(lat), d = lon-lon0;
  const east = lat>0 && d>60;
  const len = east ? lenEast(a) : lenRest(a);
  const y = lat>=0 ? equatorY-heightN(a) : equatorY+heightS(a)+southDrop*Math.abs(d)*Math.min(1,a/5);
  this.stream.point(centreX + pxPerDegree*len*d, y);
}});
const path = d3.geoPath(toScreen);
const colour = d3.scaleLinear().domain(changeStops).range(changeColours).clamp(true);

function feature(name, change, outline){
  const polys = outline.split("|").map(r=>{
    const ring = r.split(";").map(p=>p.split(",").map(Number));
    ring.push(ring[0]);
    return [ring];
  });
  return {type:"Feature",properties:{name,change},geometry:{type:"MultiPolygon",coordinates:polys}};
}
const groups = [[americaNames,americaChanges,americaOutlines],[europeNames,europeChanges,europeOutlines],[eastAsiaNames,eastAsiaChanges,eastAsiaOutlines],[westAsiaNames,westAsiaChanges,westAsiaOutlines],[africaNames,africaChanges,africaOutlines]];
const features = groups.flatMap(([n,c,o])=>n.map((d,i)=>feature(d,c[i],o[i])));

const svg = d3.select("#c");
svg.append("g").selectAll("path").data(features).join("path")
  .attr("d",path)
  .attr("fill",d=>d.properties.change===null?noDataColour:colour(d.properties.change))
  .attr("stroke","#aab2ba").attr("stroke-opacity",.7).attr("stroke-width",.45).attr("stroke-linejoin","round");

svg.append("text").text(titleText).attr("x",8).attr("y",33)
  .attr("font-family","Liberation Serif").attr("font-weight",700).attr("font-size",35.5)
  .attr("textLength",790).attr("lengthAdjust","spacingAndGlyphs").attr("fill","#0a0a0a");
svg.selectAll(".sub").data(subtitleLines).join("text").attr("class","sub")
  .text(d=>d).attr("x",8).attr("y",(d,i)=>48+i*13)
  .attr("font-family","Liberation Sans").attr("font-size",11.4).attr("fill","#808080").attr("letter-spacing",.35);

const lineH = 20;
labelLines.forEach((lines,i)=>{
  const g = svg.append("g");
  const rect = g.append("rect");
  const top = labelCentreY[i]-lines.length*lineH/2;
  const texts = g.selectAll("text").data(lines).join("text").text(d=>d)
    .attr("x",labelCentreX[i]).attr("y",(d,j)=>top+j*lineH+16.5).attr("text-anchor","middle")
    .attr("font-family","Liberation Sans").attr("font-weight",700).attr("font-size",18.2).attr("fill","#fff").attr("letter-spacing",.45);
  const w = d3.max(texts.nodes(),n=>n.getComputedTextLength())+7;
  rect.attr("x",labelCentreX[i]-w/2).attr("y",top).attr("width",w).attr("height",lines.length*lineH+.5).attr("rx",3)
    .attr("fill","#000").attr("fill-opacity",.5);
});
</script></body></html>
